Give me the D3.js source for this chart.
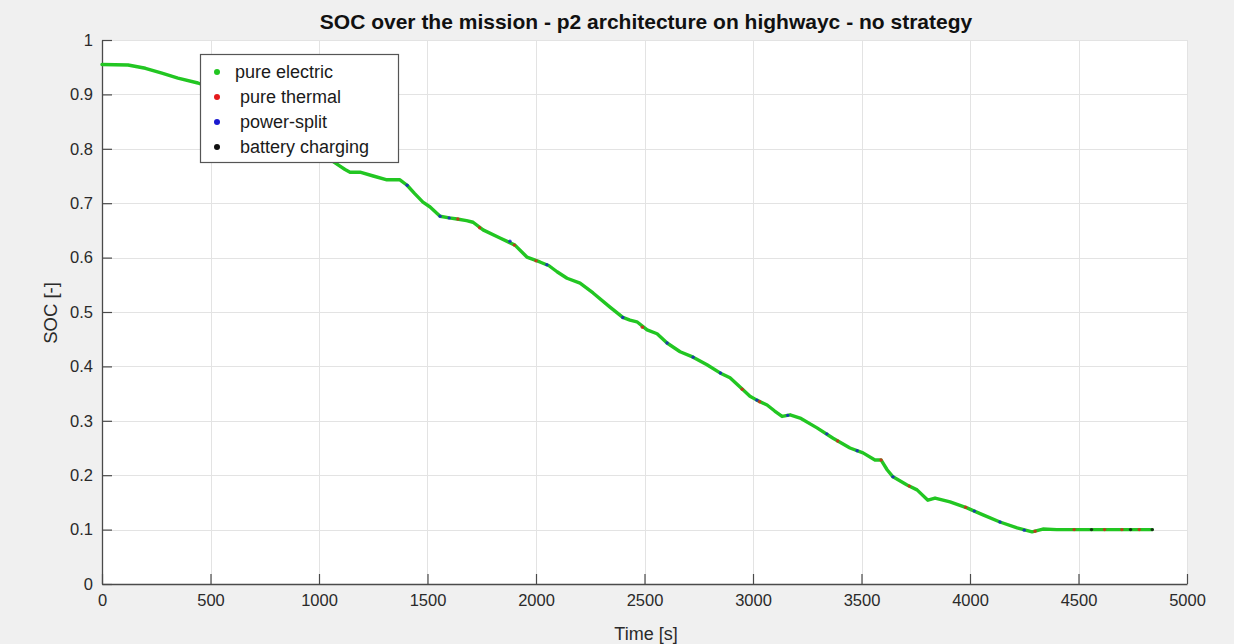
<!DOCTYPE html>
<html>
<head>
<meta charset="utf-8">
<script src="https://cdn.jsdelivr.net/npm/d3@7"></script>
<style>
  html, body { margin: 0; padding: 0; background: #f0f0f0; }
  svg { display: block; font-family: "Liberation Sans", Arial, Helvetica, sans-serif; }
</style>
</head>
<body>
<svg id="chart" width="1234" height="644"></svg>
<script>
// ---- data ----
const timeS = [0,120,200,276,350,442,550,650,750,850,950,1000,1074,1120,1143,1189,1250,1313,1373,1406,1440,1479,1512,1558,1600,1636,1680,1710,1756,1834,1903,1958,2018,2060,2097,2143,2203,2263,2341,2400,2433,2465,2512,2558,2604,2664,2724,2788,2848,2894,2954,2986,3018,3065,3100,3134,3171,3217,3295,3369,3447,3507,3562,3590,3618,3645,3710,3756,3806,3839,3908,3986,4060,4138,4217,4286,4336,4400,4600,4840];
const socValues = [0.955,0.954,0.948,0.939,0.930,0.921,0.905,0.888,0.868,0.845,0.815,0.795,0.774,0.762,0.757,0.757,0.750,0.743,0.743,0.733,0.718,0.702,0.693,0.676,0.673,0.671,0.668,0.665,0.651,0.636,0.623,0.601,0.592,0.585,0.574,0.562,0.553,0.535,0.509,0.490,0.485,0.482,0.467,0.460,0.443,0.427,0.417,0.403,0.388,0.379,0.357,0.345,0.338,0.329,0.318,0.308,0.311,0.305,0.287,0.268,0.250,0.241,0.228,0.228,0.210,0.197,0.182,0.173,0.154,0.158,0.151,0.140,0.127,0.114,0.103,0.096,0.101,0.100,0.100,0.100];

// isolated power-split (blue) and pure thermal (red) samples along the trace: [time, SOC]
const powerSplitPts = [[1406,0.733],[1558,0.676],[1600,0.673],[1880,0.630],[2050,0.587],[2400,0.490],[2604,0.443],[2724,0.417],[2850,0.388],[3018,0.338],[3160,0.310],[3340,0.276],[3480,0.245],[3645,0.197],[4020,0.134],[4138,0.114],[4250,0.099]];
const thermalPts = [[1640,0.671],[1740,0.655],[1900,0.623],[2000,0.594],[2490,0.472],[2950,0.358],[3030,0.335],[3390,0.263],[3590,0.228],[3720,0.180],[3980,0.141],[4300,0.097],[4480,0.100],[4620,0.100],[4700,0.100],[4780,0.100]];
const chargingPts = [[4560,0.100],[4740,0.100],[4840,0.100]];

const legendLabels = ["pure electric", "pure thermal", "power-split", "battery charging"];
const legendColors = ["#22c622", "#e41a1c", "#1a1ad0", "#111111"];

const xTicks = [0,500,1000,1500,2000,2500,3000,3500,4000,4500,5000];
const yTicks = [0,0.1,0.2,0.3,0.4,0.5,0.6,0.7,0.8,0.9,1];

const titleText = "SOC over the mission - p2 architecture on highwayc - no strategy";
const xLabel = "Time [s]";
const yLabel = "SOC [-]";

// ---- layout ----
const svg = d3.select("#chart");
const L = 102, R = 1187, T = 40, B = 584;
const x = d3.scaleLinear().domain([0, 5000]).range([L, R]);
const y = d3.scaleLinear().domain([0, 1]).range([B, T]);

// background
svg.append("rect").attr("width", 1234).attr("height", 644).attr("fill", "#f0f0f0");
svg.append("rect").attr("x", L).attr("y", T).attr("width", R - L).attr("height", B - T).attr("fill", "#ffffff");

// grid
const grid = svg.append("g").attr("stroke", "#e3e3e3").attr("stroke-width", 1);
grid.selectAll(".gx").data(xTicks.slice(1)).join("line")
  .attr("x1", d => Math.round(x(d)) + 0.5).attr("x2", d => Math.round(x(d)) + 0.5)
  .attr("y1", T).attr("y2", B);
grid.selectAll(".gy").data(yTicks.slice(1)).join("line")
  .attr("y1", d => Math.round(y(d)) + 0.5).attr("y2", d => Math.round(y(d)) + 0.5)
  .attr("x1", L).attr("x2", R);

// axes
const xAxis = d3.axisBottom(x).tickValues(xTicks).tickSizeInner(-10).tickSizeOuter(0).tickPadding(14).tickFormat(d3.format("d"));
const yAxis = d3.axisLeft(y).tickValues(yTicks).tickSizeInner(-10).tickSizeOuter(0).tickPadding(14).tickFormat(d => d === 0 || d === 1 ? String(d) : d3.format(".1f")(d));

const gx = svg.append("g").attr("transform", `translate(0,${B})`).call(xAxis);
const gy = svg.append("g").attr("transform", `translate(${L},0)`).call(yAxis);
[gx, gy].forEach(g => {
  g.select(".domain").attr("stroke", "#4a4a4a").attr("stroke-width", 1.3);
  g.selectAll(".tick line").attr("stroke", "#4a4a4a").attr("stroke-width", 1.2);
  g.selectAll(".tick text").attr("fill", "#2a2a2a").attr("font-size", 16.5);
});
gx.selectAll(".tick text").attr("dy", "0.5em");
gy.selectAll(".tick text").attr("dx", "5px");

// line
const pts = timeS.map((t, i) => [t, socValues[i]]);
const line = d3.line().x(d => x(d[0])).y(d => y(d[1])).curve(d3.curveLinear);
svg.append("path").datum(pts).attr("d", line)
  .attr("fill", "none").attr("stroke", legendColors[0]).attr("stroke-width", 3.4)
  .attr("stroke-linejoin", "round").attr("stroke-linecap", "round");

// mode specks
function specks(data, color) {
  svg.append("g").selectAll("circle").data(data).join("circle")
    .attr("cx", d => x(d[0])).attr("cy", d => y(d[1])).attr("r", 1.7)
    .attr("fill", color).attr("opacity", 0.8);
}
specks(powerSplitPts, legendColors[2]);
specks(thermalPts, legendColors[1]);
specks(chargingPts, legendColors[3]);

// legend
const lg = svg.append("g");
lg.append("rect").attr("x", 200.5).attr("y", 54.5).attr("width", 198).attr("height", 108)
  .attr("fill", "#ffffff").attr("stroke", "#555555").attr("stroke-width", 1.2);
const lgY = [72, 97, 122, 147];
const lgTextX = [235, 240, 240, 240];
legendLabels.forEach((lab, i) => {
  lg.append("circle").attr("cx", 217).attr("cy", lgY[i]).attr("r", 3).attr("fill", legendColors[i]);
  lg.append("text").attr("x", lgTextX[i]).attr("y", lgY[i]).attr("dy", "0.35em")
    .attr("font-size", 18).attr("fill", "#1a1a1a").text(lab);
});

// title and labels
svg.append("text").attr("x", 646).attr("y", 29).attr("text-anchor", "middle")
  .attr("font-size", 21).attr("font-weight", "bold").attr("fill", "#111").text(titleText);
svg.append("text").attr("x", 646).attr("y", 640).attr("text-anchor", "middle")
  .attr("font-size", 18).attr("fill", "#2a2a2a").text(xLabel);
svg.append("text").attr("transform", `translate(57,313) rotate(-90)`).attr("text-anchor", "middle")
  .attr("font-size", 18.5).attr("fill", "#2a2a2a").text(yLabel);
</script>
</body>
</html>
